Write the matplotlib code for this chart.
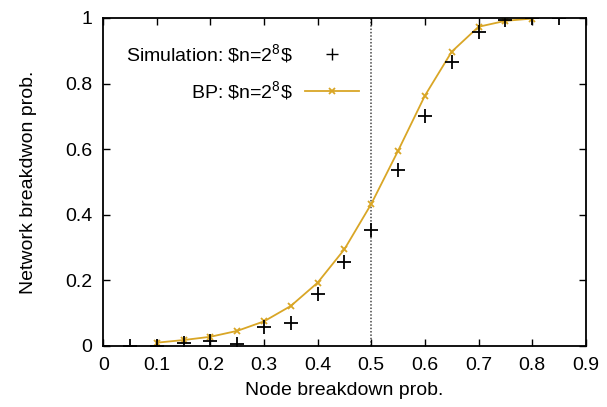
import matplotlib
matplotlib.use("Agg")
import matplotlib.pyplot as plt

plt.rcParams['font.family'] = ['Liberation Sans', 'DejaVu Sans']
plt.rcParams['mathtext.fontset'] = 'custom'
plt.rcParams['mathtext.rm'] = 'Liberation Sans'
plt.rcParams['mathtext.it'] = 'Liberation Sans'

# simulation results (black +)
sim_x = [0.0, 0.05, 0.1, 0.15, 0.2, 0.25, 0.3, 0.35, 0.4, 0.45,
         0.5, 0.55, 0.6, 0.65, 0.7, 0.75, 0.8, 0.85]
sim_y = [0.0, 0.0, 0.0, 0.01, 0.015, 0.006, 0.058, 0.07, 0.159, 0.256,
         0.354, 0.537, 0.70, 0.866, 0.957, 0.995, 1.0, 1.0]

# belief propagation estimate (gold line)
bp_x = [0.1, 0.15, 0.2, 0.25, 0.3, 0.35, 0.4, 0.45, 0.5, 0.55,
        0.6, 0.65, 0.7, 0.75, 0.8]
bp_y = [0.01, 0.018, 0.028, 0.046, 0.075, 0.122, 0.193, 0.295, 0.433, 0.595,
        0.763, 0.897, 0.973, 0.991, 0.998]

threshold = 0.5
fs = 14

fig = plt.figure(figsize=(6.07, 4.07), dpi=100)
ax = fig.add_axes([0.170, 0.150, 0.795, 0.806])

ax.axvline(threshold, color='#444444', linestyle=(0, (1, 1.2)), linewidth=1.1, zorder=1)
ax.plot(sim_x, sim_y, linestyle='none', marker='+', color='black',
        markersize=10, markeredgewidth=1.3, label='Simulation: \\$n=2$^8$\\$', zorder=3)
ax.plot(bp_x, bp_y, '-x', color='#D9A626', linewidth=1.3,
        markersize=5, markeredgewidth=1.3, label='BP: \\$n=2$^8$\\$', zorder=2)

ax.set_xlim(0, 0.9)
ax.set_ylim(0, 1)
ax.set_xticks([0, 0.1, 0.2, 0.3, 0.4, 0.5, 0.6, 0.7, 0.8, 0.9])
ax.set_xticklabels(['0', '0.1', '0.2', '0.3', '0.4', '0.5', '0.6', '0.7', '0.8', '0.9'])
ax.set_yticks([0, 0.2, 0.4, 0.6, 0.8, 1])
ax.set_yticklabels(['0', '0.2', '0.4', '0.6', '0.8', '1'])
ax.tick_params(direction='in', top=True, right=True, length=5, width=1,
               labelsize=fs, pad=8)
for s in ax.spines.values():
    s.set_linewidth(1.3)

ax.set_xlabel('Node breakdown prob.', fontsize=fs, labelpad=6)
ax.set_ylabel('Network breakdwon prob.', fontsize=fs, labelpad=20)

leg = ax.legend(loc='upper right', bbox_to_anchor=(0.530, 0.925), frameon=False,
                fontsize=fs, handlelength=2.8, handletextpad=0.6,
                labelspacing=0.7, borderpad=0, borderaxespad=0)
leg.legend_handles[0].set_markersize(8)
leg.legend_handles[0].set_markeredgewidth(1.0)
# put the text before the sample and right-align the rows, gnuplot style
vp = leg._legend_box._children[-1]._children[0]
for row in vp._children:
    row._children.reverse()
vp.align = 'right'

fig.savefig('out.png', dpi=100)
